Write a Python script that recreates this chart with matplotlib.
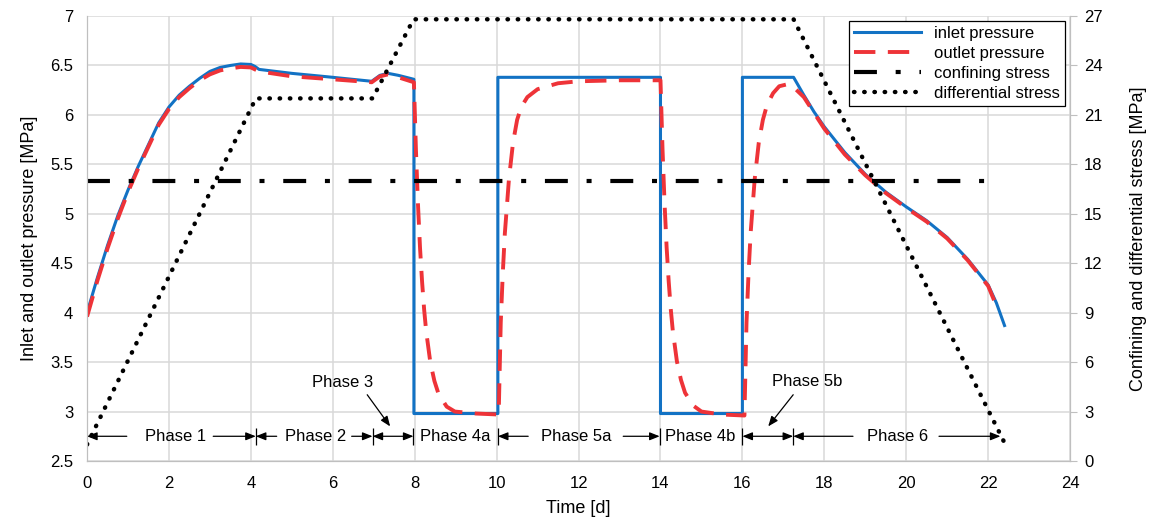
import matplotlib
matplotlib.use('Agg')
import matplotlib.pyplot as plt

plt.rcParams['font.family'] = ['Liberation Sans', 'DejaVu Sans']
plt.rcParams['font.size'] = 12

# 数据: 时间 [d] 与压力/应力 [MPa]
inlet_t = [0, 0.25, 0.5, 0.75, 1.0, 1.25, 1.5, 1.75, 2.0, 2.25, 2.5, 2.75, 3.0, 3.25,
           3.5, 3.75, 4.0, 4.1, 4.2, 5.0, 6.0, 6.95, 7.15, 7.35, 7.6, 7.98, 7.98,
           10.03, 10.03, 14.0, 14.0, 16.0, 16.0, 17.25, 17.5, 17.75, 18.0, 18.5,
           19.0, 19.5, 20.0, 20.5, 21.0, 21.5, 22.0, 22.2, 22.4]
inlet_p = [4.00, 4.35, 4.68, 4.98, 5.24, 5.48, 5.70, 5.92, 6.08, 6.20, 6.29, 6.37,
           6.44, 6.48, 6.50, 6.515, 6.51, 6.49, 6.46, 6.42, 6.38, 6.34, 6.40, 6.42,
           6.40, 6.36, 2.98, 2.98, 6.38, 6.38, 2.98, 2.98, 6.38, 6.38, 6.20, 6.03,
           5.88, 5.62, 5.40, 5.22, 5.07, 4.93, 4.76, 4.54, 4.28, 4.10, 3.87]

outlet_t = [0, 0.25, 0.5, 0.75, 1.0, 1.25, 1.5, 1.75, 2.0, 2.25, 2.5, 2.75, 3.0, 3.25,
            3.5, 3.75, 4.0, 4.2, 5.0, 6.0, 6.95, 7.15, 7.35, 7.6, 7.98,
            8.03, 8.08, 8.13, 8.18, 8.23, 8.28, 8.38, 8.48, 8.58, 8.78, 8.98, 9.5, 10.05,
            10.1, 10.15, 10.2, 10.3, 10.4, 10.5, 10.6, 10.75, 11.0, 11.5, 12.0, 13.0, 14.0,
            14.05, 14.1, 14.15, 14.2, 14.25, 14.3, 14.4, 14.5, 14.6, 14.8, 15.0, 15.5, 16.05,
            16.1, 16.15, 16.2, 16.3, 16.4, 16.5, 16.6, 16.75, 16.9, 17.1, 17.2, 17.25,
            17.5, 17.75, 18.0, 18.5, 19.0, 19.5, 20.0, 20.5, 21.0, 21.5, 22.0, 22.25]
outlet_p = [3.96, 4.32, 4.65, 4.95, 5.22, 5.46, 5.68, 5.90, 6.06, 6.18, 6.27, 6.35,
            6.41, 6.45, 6.47, 6.485, 6.48, 6.44, 6.39, 6.36, 6.33, 6.39, 6.41, 6.38, 6.33,
            5.64, 5.09, 4.65, 4.31, 4.03, 3.81, 3.50, 3.31, 3.18, 3.05, 3.00, 2.98, 2.97,
            3.90, 4.40, 4.80, 5.35, 5.72, 5.95, 6.08, 6.18, 6.26, 6.32, 6.34, 6.35, 6.35,
            5.65, 5.10, 4.66, 4.32, 4.04, 3.82, 3.51, 3.32, 3.19, 3.06, 3.00, 2.97, 2.96,
            3.90, 4.40, 4.80, 5.35, 5.72, 5.95, 6.10, 6.22, 6.29, 6.31, 6.30, 6.28,
            6.18, 6.02, 5.86, 5.60, 5.39, 5.21, 5.06, 4.92, 4.75, 4.53, 4.27, 4.02]

confining_t = [0, 22.3]
confining_s = [17.0, 17.0]

diff_t = [0, 4.12, 6.97, 7.97, 17.25, 22.4]
diff_s = [1.0, 22.0, 22.0, 26.8, 26.8, 1.1]

# 阶段标注
phase_ticks = [4.12, 6.97, 7.97, 10.03, 13.98, 16.0, 17.24]
phase_names = ['Phase 1', 'Phase 2', 'Phase 4a', 'Phase 5a', 'Phase 4b', 'Phase 6']
phase_centers = [2.15, 5.59, 8.99, 11.95, 14.97, 19.78]
phase_arrows = [(0.97, 0), (3.08, 4.12), (4.63, 4.12), (6.46, 6.97),
                (10.77, 10.03), (13.09, 13.98), (18.7, 17.24), (20.8, 22.3)]

blue = '#1272C4'
red = '#EE3338'
grid_c = '#D9D9D9'
spine_c = '#BFBFBF'

fig = plt.figure(figsize=(11.5, 5.25), dpi=100)
ax = fig.add_axes([0.0757, 0.1219, 0.8548, 0.8476])
ax2 = ax.twinx()

l1, = ax.plot(inlet_t, inlet_p, color=blue, lw=2.2, label='inlet pressure', zorder=3)
l2, = ax.plot(outlet_t, outlet_p, color=red, lw=2.8, dashes=(5.5, 3.2),
              label='outlet pressure', zorder=4)
l3, = ax2.plot(confining_t, confining_s, color='black', lw=3,
               dashes=(5.5, 4.5, 1.2, 4.5), label='confining stress')
l4, = ax2.plot(diff_t, diff_s, color='black', lw=3.2, dashes=(0.1, 2.2),
               dash_capstyle='round', label='differential stress')

ax.set_xlim(0, 24)
ax.set_ylim(2.5, 7)
ax2.set_ylim(0, 27)
ax.set_xticks(range(0, 25, 2))
yt = [2.5 + 0.5 * i for i in range(10)]
ax.set_yticks(yt)
ax.set_yticklabels([f'{v:g}' for v in yt])
ax2.set_yticks(range(0, 28, 3))

ax.grid(True, color=grid_c, lw=1.1)
ax.set_axisbelow(True)
for a in (ax, ax2):
    for s in a.spines.values():
        s.set_color(spine_c)
    a.spines['top'].set_visible(False)
ax.tick_params(axis='x', length=0, pad=11)
ax.tick_params(axis='y', length=0, pad=10)
ax2.tick_params(axis='y', length=5, color=spine_c, pad=5)

ax.set_xlabel('Time [d]', labelpad=6, fontsize=13)
ax.set_ylabel('Inlet and outlet pressure [MPa]', labelpad=9, fontsize=13)
ax2.set_ylabel('Confining and differential stress [MPa]', labelpad=20, fontsize=13)

# 阶段文字、箭头和分隔线
y0 = 2.75
fs = 12
for name, xc in zip(phase_names, phase_centers):
    ax.text(xc, y0, name, ha='center', va='center', fontsize=fs)
for x0, x1 in phase_arrows:
    ax.annotate('', xy=(x1, y0), xytext=(x0, y0),
                arrowprops=dict(arrowstyle='-|>,head_length=0.5,head_width=0.2',
                                color='black', lw=0.9, shrinkA=0, shrinkB=0))
for xa, xb in [(6.97, 7.97), (16.0, 17.24)]:
    ax.annotate('', xy=(xb, y0), xytext=(xa, y0),
                arrowprops=dict(arrowstyle='<|-|>,head_length=0.5,head_width=0.2',
                                color='black', lw=0.9, shrinkA=0, shrinkB=0))
ax.vlines(phase_ticks, y0 - 0.085, y0 + 0.085, color='black', lw=0.9)

ax.text(6.23, 3.29, 'Phase 3', ha='center', va='center', fontsize=fs)
ax.annotate('', xy=(7.4, 2.85), xytext=(6.84, 3.17),
            arrowprops=dict(arrowstyle='-|>,head_length=0.5,head_width=0.2',
                            color='black', lw=0.9, shrinkA=0, shrinkB=0))
ax.text(17.58, 3.30, 'Phase 5b', ha='center', va='center', fontsize=fs)
ax.annotate('', xy=(16.63, 2.85), xytext=(17.24, 3.17),
            arrowprops=dict(arrowstyle='-|>,head_length=0.5,head_width=0.2',
                            color='black', lw=0.9, shrinkA=0, shrinkB=0))

leg = ax2.legend(handles=[l1, l2, l3, l4], loc='upper right', fancybox=False,
                 edgecolor='black', framealpha=1, handlelength=4.0,
                 labelspacing=0.3, borderaxespad=0.3, borderpad=0.3,
                 handletextpad=0.8, fontsize=12)
leg.get_frame().set_linewidth(0.9)

fig.savefig('out.png', dpi=100)
